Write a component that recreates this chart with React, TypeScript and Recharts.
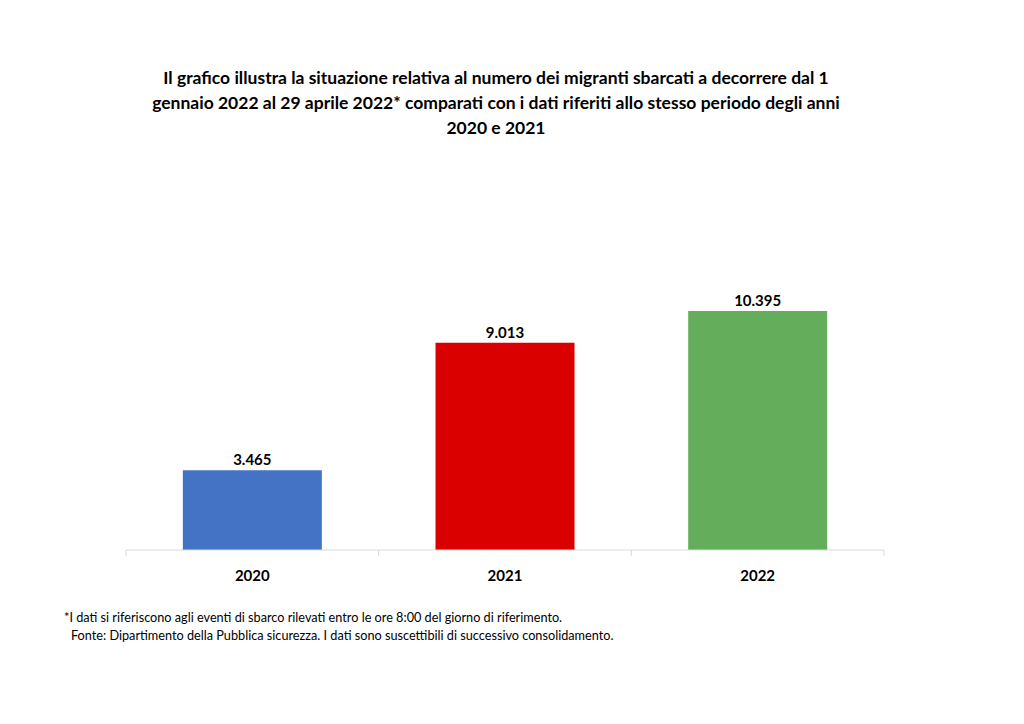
import { BarChart, Bar, XAxis, YAxis, Cell, LabelList } from "recharts";

const years = ["2020", "2021", "2022"];
const migrants = [3465, 9013, 10395];
const colors = ["#4472c4", "#db0000", "#64ad5a"];

const titleLines = [
  "Il grafico illustra la situazione relativa al numero dei migranti sbarcati a decorrere dal 1",
  "gennaio 2022 al 29 aprile 2022* comparati con i dati riferiti allo stesso periodo degli anni",
  "2020 e 2021",
];
const notes = [
  "*I dati si riferiscono agli eventi di sbarco rilevati entro le ore 8:00 del giorno di riferimento.",
  "Fonte: Dipartimento della Pubblica sicurezza. I dati sono suscettibili di successivo consolidamento.",
];

const data = years.map((y, i) => ({ year: y, value: migrants[i] }));

const fmt = (v: number) => String(v).replace(/\B(?=(\d{3})+(?!\d))/g, ".");

const font = "Lato, 'Open Sans', sans-serif";
const margin = { top: 274, right: 140, bottom: 144, left: 126 };
const gridColor = "#d9d9d9";

// category label plus the small boundary ticks Excel draws between categories
function YearTick(props: any) {
  const { x, y, payload, index } = props;
  const half = payload?.offset || (1024 - margin.left - margin.right) / years.length / 2;
  return (
    <g>
      <line x1={x - half} x2={x - half} y1={y} y2={y + 6} stroke={gridColor} />
      {index === years.length - 1 && (
        <line x1={x + half} x2={x + half} y1={y} y2={y + 6} stroke={gridColor} />
      )}
      <text
        x={x}
        y={y + 31}
        textAnchor="middle"
        fill="#000"
        fontSize={15}
        fontWeight={700}
        fontFamily={font}
      >
        {payload.value}
      </text>
    </g>
  );
}

export default function App() {
  return (
    <div
      style={{
        position: "absolute",
        left: 0,
        top: 0,
        width: 1024,
        height: 724,
        background: "#fff",
        fontFamily: font,
        color: "#000",
      }}
    >
      {titleLines.map((t, i) => (
        <div
          key={i}
          style={{
            position: "absolute",
            left: 0,
            width: 992,
            top: 65 + i * 25,
            textAlign: "center",
            fontWeight: 700,
            fontSize: 17.5,
            lineHeight: "26px",
            whiteSpace: "nowrap",
          }}
        >
          {t}
        </div>
      ))}

      <div style={{ position: "absolute", left: 0, top: 0 }}>
        <BarChart
          width={1024}
          height={724}
          data={data}
          margin={margin}
          barCategoryGap="22.5%"
        >
          <XAxis
            dataKey="year"
            height={30}
            stroke={gridColor}
            tickLine={false}
            tickSize={0}
            tickMargin={0}
            tick={<YearTick />}
            interval={0}
          />
          <YAxis hide domain={[0, 12000]} />
          <Bar dataKey="value" isAnimationActive={false}>
            {data.map((d, i) => (
              <Cell key={d.year} fill={colors[i]} />
            ))}
            <LabelList
              dataKey="value"
              position="top"
              offset={5}
              formatter={(v: any) => fmt(Number(v))}
              style={{ fill: "#000", fontSize: 15, fontWeight: 700, fontFamily: font }}
            />
          </Bar>
        </BarChart>
      </div>

      {notes.map((t, i) => (
        <div
          key={i}
          style={{
            position: "absolute",
            left: i === 0 ? 64 : 71,
            top: 608 + i * 18,
            fontSize: 12.7,
            lineHeight: "18px",
            whiteSpace: "nowrap",
          }}
        >
          {t}
        </div>
      ))}
    </div>
  );
}
